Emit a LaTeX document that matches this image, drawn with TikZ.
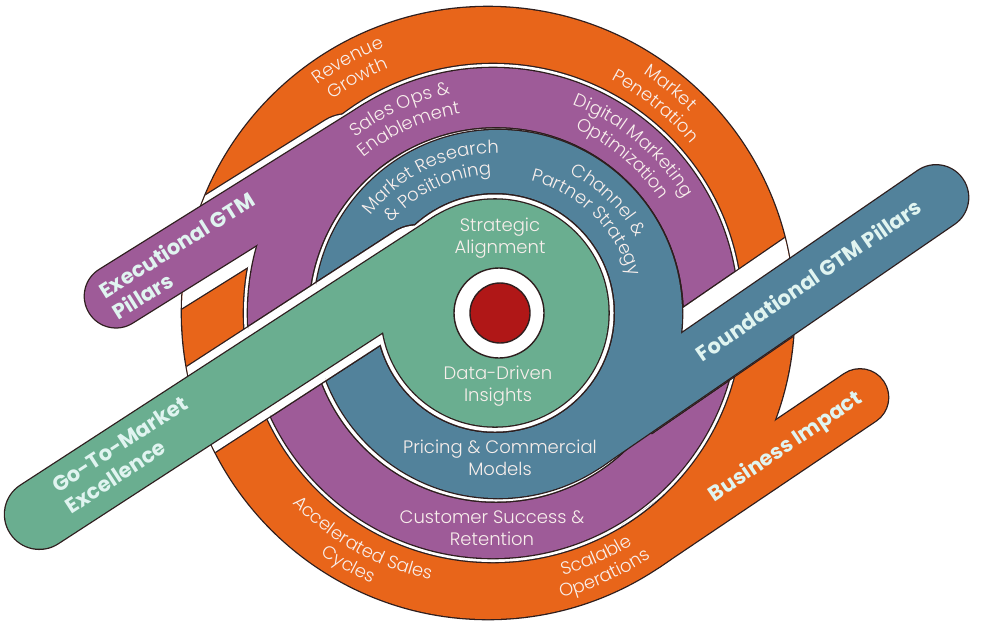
\documentclass[tikz,border=0pt]{standalone}
\usepackage{fontspec}
\setmainfont{Poppins}
\IfFontExistsTF{Poppins Light}{\newfontfamily\lightfont{Poppins Light}}{\newfontfamily\lightfont{Poppins}}
\usetikzlibrary{decorations.text}
\definecolor{cOr}{HTML}{E8651A}
\definecolor{cPu}{HTML}{9E5B98}
\definecolor{cBl}{HTML}{52829B}
\definecolor{cGr}{HTML}{6AAE90}
\definecolor{cRd}{HTML}{B01717}
\definecolor{cLn}{HTML}{2E1E1E}
\definecolor{cTx}{HTML}{F8EFEC}
\definecolor{cBd}{HTML}{E0F4F0}
\newcommand\lblfont{\lightfont\fontsize{9}{11}\selectfont}
\newcommand\OrDiscP[1]{\path[#1] (488,313) circle[radius=306];}
\newcommand\OrBandP[1]{\path[fO,rounded corners=13.9pt,#1] (-28,250) rectangle (289.2,306);}
\newcommand\PuDiscP[1]{\path[#1] (493,313) circle[radius=245];}
\newcommand\PuBandP[1]{\path[fP,rounded corners=15.4pt,#1] (-341.8,-245) rectangle (31,-183);}
\newcommand\BlDiscP[1]{\path[#1] (498,314) circle[radius=184];}
\newcommand\BlBandP[1]{\path[fB,rounded corners=15.9pt,#1] (-32,120) rectangle (459,184);}
\newcommand\GrDiscP[1]{\path[#1] (495,313) circle[radius=113.5];}
\newcommand\GrBandP[1]{\path[fG,rounded corners=17pt,#1] (-526,-113.5) rectangle (34,-45);}
\newcommand\PuHalo[1]{\path[#1] (493,313) circle[radius=249];\path[fP,rounded corners=20pt,#1] (-352,-252) rectangle (0,-169);}
\newcommand\BlHalo[1]{\path[#1] (496,315) circle[radius=186.5];\path[fB,#1] (60,100) rectangle (475,185);}
\newcommand\GrHalo[1]{\path[#1] (495,313) circle[radius=118.5];\path[fG,rounded corners=20pt,#1] (-534,-122.5) rectangle (0,-36);}
% curved labels: centre x, centre y, angle, radius, text
\newcommand\TopLbl[5]{\begin{scope}[shift={(#1,#2)},y=0.5pt]\path[decorate,decoration={text along path,text align=center,text={|\lblfont\color{cTx}|#5}}] ({#3+45}:#4) arc[start angle={#3+45},end angle={#3-45},radius=#4];\end{scope}}
\newcommand\BotLbl[5]{\begin{scope}[shift={(#1,#2)},y=0.5pt]\path[decorate,decoration={text along path,text align=center,text={|\lblfont\color{cTx}|#5}}] ({#3-45}:#4) arc[start angle={#3-45},end angle={#3+45},radius=#4];\end{scope}}
\begin{document}
\begin{tikzpicture}[x=0.5pt,y=-0.5pt,
 fO/.style={shift={(488,313)},rotate=34},
 fP/.style={shift={(493,313)},rotate=32},
 fB/.style={shift={(498,314)},rotate=34.5},
 fG/.style={shift={(495,313)},rotate=33},
 ol/.style={draw=cLn,line width=1.3pt},
 lbl/.style={text=cTx,align=center,font=\lblfont,inner sep=0pt},
 blbl/.style={text=cBd,align=left,font=\fontsize{10.5}{12.5}\selectfont\bfseries,inner sep=0pt},
]
\useasboundingbox (0,0) rectangle (1000,628);
% ---------- orange layer
\OrDiscP{ol}\OrBandP{ol}
\OrDiscP{fill=cOr}\OrBandP{fill=cOr}
% ---------- purple layer
\begin{scope}\OrDiscP{clip}\PuHalo{ol}\PuHalo{fill=white}\end{scope}
\begin{scope}\OrBandP{clip}\PuHalo{ol}\PuHalo{fill=white}\end{scope}
\PuDiscP{ol}\PuBandP{ol}
\PuDiscP{fill=cPu}\PuBandP{fill=cPu}
% ---------- blue layer
\begin{scope}\OrDiscP{clip}\BlHalo{ol}\BlHalo{fill=white}\end{scope}
\begin{scope}\OrBandP{clip}\BlHalo{ol}\BlHalo{fill=white}\end{scope}
\begin{scope}\PuDiscP{clip}\BlHalo{ol}\BlHalo{fill=white}\end{scope}
\begin{scope}\PuBandP{clip}\BlHalo{ol}\BlHalo{fill=white}\end{scope}
\BlDiscP{ol}\BlBandP{ol}
\BlDiscP{fill=cBl}\BlBandP{fill=cBl}
% ---------- green layer
\begin{scope}\OrDiscP{clip}\GrHalo{ol}\GrHalo{fill=white}\end{scope}
\begin{scope}\OrBandP{clip}\GrHalo{ol}\GrHalo{fill=white}\end{scope}
\begin{scope}\PuDiscP{clip}\GrHalo{ol}\GrHalo{fill=white}\end{scope}
\begin{scope}\PuBandP{clip}\GrHalo{ol}\GrHalo{fill=white}\end{scope}
\begin{scope}\BlDiscP{clip}\GrHalo{ol}\GrHalo{fill=white}\end{scope}
\begin{scope}\BlBandP{clip}\GrHalo{ol}\GrHalo{fill=white}\end{scope}
\GrDiscP{ol}\GrBandP{ol}
\GrDiscP{fill=cGr}\GrBandP{fill=cGr}
% ---------- centre
\node[circle,minimum size=45pt,inner sep=0pt,fill=white,draw=cLn,line width=0.7pt] (hub) at (499,313) {};
\node[circle,minimum size=30pt,inner sep=0pt,fill=cRd,draw=cLn,line width=0.7pt] (core) at (500,313) {};
% ---------- curved ring labels
\TopLbl{488}{313}{119}{285}{Revenue}
\TopLbl{488}{313}{119}{264}{Growth}
\TopLbl{488}{313}{51}{285}{Market}
\TopLbl{488}{313}{51}{264}{Penetration}
\TopLbl{493}{313}{114.5}{223}{Sales Ops {\&}}
\TopLbl{493}{313}{114.5}{202}{Enablement}
\TopLbl{493}{313}{50}{223}{Digital Marketing}
\TopLbl{493}{313}{50}{202}{Optimization}
\TopLbl{498}{314}{116}{161}{Market Research}
\TopLbl{498}{314}{116}{140}{{\&} Positioning}
\TopLbl{498}{314}{46}{158}{Channel {\&}}
\TopLbl{498}{314}{46}{137}{Partner Strategy}
\BotLbl{488}{313}{241}{273}{Accelerated Sales}
\BotLbl{488}{313}{241}{294}{Cycles}
\BotLbl{488}{313}{294}{273}{Scalable}
\BotLbl{488}{313}{294}{294}{Operations}
% ---------- straight labels
\node[lbl] (strategic) at (500,238) {Strategic\\Alignment};
\node[lbl] (datadriven) at (498,386) {Data-Driven\\Insights};
\node[lbl] (pricing) at (500,458) {Pricing \& Commercial\\Models};
\node[lbl] (customer) at (492,528) {Customer Success \&\\Retention};
% ---------- tail labels
\begin{scope}[fP]
\node[blbl,rotate=32,anchor=west] (exec) at (-322,-213) {Executional GTM\\Pillars};
\end{scope}
\begin{scope}[fG]
\node[blbl,rotate=33,anchor=west] (gtm) at (-465,-82) {Go-To-Market\\Excellence};
\end{scope}
\begin{scope}[fB]
\node[blbl,rotate=34.5] (found) at (275,148) {Foundational GTM Pillars};
\end{scope}
\begin{scope}[fO]
\node[blbl,rotate=34] (impact) at (172,278) {Business Impact};
\end{scope}
\end{tikzpicture}
\end{document}
